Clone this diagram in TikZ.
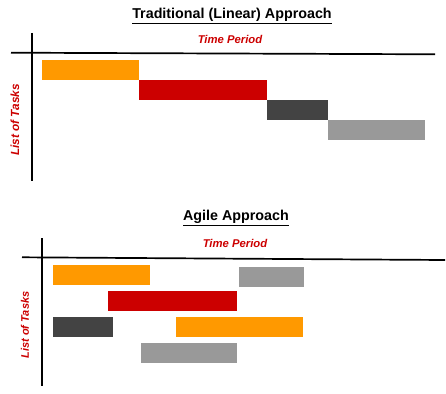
\documentclass[tikz,border=0pt]{standalone}
\usepackage{fontspec}
\setmainfont{Liberation Sans}
\definecolor{barorange}{HTML}{FF9900}
\definecolor{barred}{HTML}{CC0000}
\definecolor{bardark}{HTML}{434343}
\definecolor{barlight}{HTML}{999999}
\definecolor{labelred}{HTML}{CC0000}
\begin{document}
\begin{tikzpicture}[x=1pt,y=-1pt,
  bar/.style={rectangle, draw=none, inner sep=0pt, outer sep=0pt, anchor=north west},
  axis/.style={line width=1.7pt, black},
  title/.style={font=\fontsize{14.3}{16}\selectfont\bfseries, inner sep=0pt},
  axlabel/.style={font=\fontsize{11.3}{13}\selectfont\bfseries\itshape, text=labelred, inner sep=0pt}]
\useasboundingbox (0,0) rectangle (446,393);
% ---------- Traditional ----------
\node[title] (t-title) at (232,16) {\underline{Traditional (Linear) Approach}};
\coordinate (t-vtop) at (32,33);
\coordinate (t-vbot) at (32,181);
\coordinate (t-hl) at (11,52.7);
\coordinate (t-hr) at (435,54.3);
\draw[axis] (t-vtop) -- (t-vbot);
\draw[axis] (t-hl) -- (t-hr);
\node[axlabel] (t-time) at (230,39) {Time Period};
\node[axlabel, rotate=90, font=\fontsize{11.8}{13}\selectfont\bfseries\itshape] (t-list) at (15,120) {List of Tasks};
\node[bar, fill=barorange, minimum width=97pt, minimum height=20pt] (t1) at (42,60) {};
\node[bar, fill=barred, minimum width=128pt, minimum height=20pt] (t2) at (139,80) {};
\node[bar, fill=bardark, minimum width=61pt, minimum height=20pt] (t3) at (267,100) {};
\node[bar, fill=barlight, minimum width=97pt, minimum height=20pt] (t4) at (328,120) {};
% ---------- Agile ----------
\node[title] (a-title) at (236,218) {\underline{Agile Approach}};
\coordinate (a-vtop) at (42,238);
\coordinate (a-vbot) at (42,386);
\coordinate (a-hl) at (22,257.3);
\coordinate (a-hr) at (445,260);
\draw[axis] (a-vtop) -- (a-vbot);
\draw[axis] (a-hl) -- (a-hr);
\node[axlabel] (a-time) at (235,243) {Time Period};
\node[axlabel, rotate=90, font=\fontsize{11}{13}\selectfont\bfseries\itshape] (a-list) at (25,325) {List of Tasks};
\node[bar, fill=barorange, minimum width=97pt, minimum height=20pt] (a1) at (53,265) {};
\node[bar, fill=barlight, minimum width=65pt, minimum height=20pt] (a2) at (239,267) {};
\node[bar, fill=barred, minimum width=129pt, minimum height=20pt] (a3) at (108,291) {};
\node[bar, fill=bardark, minimum width=60pt, minimum height=20pt] (a4) at (53,317) {};
\node[bar, fill=barorange, minimum width=127pt, minimum height=20pt] (a5) at (176,317) {};
\node[bar, fill=barlight, minimum width=96pt, minimum height=20pt] (a6) at (141,343) {};
\end{tikzpicture}
\end{document}
